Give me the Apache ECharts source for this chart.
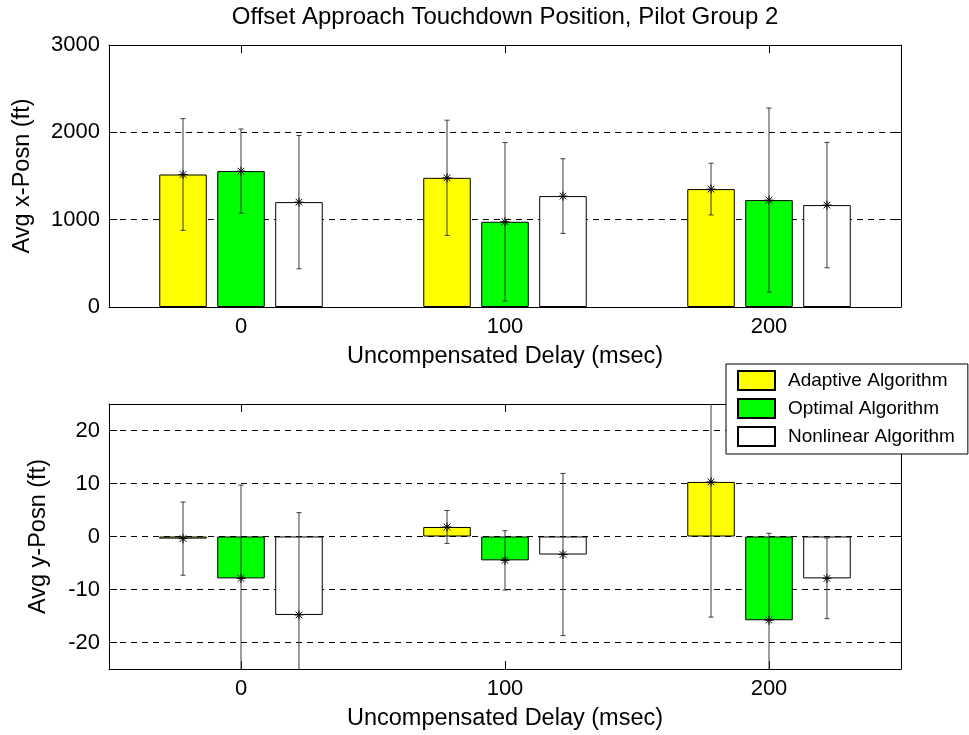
<!DOCTYPE html>
<html>
<head>
<meta charset="utf-8">
<title>Offset Approach Touchdown Position, Pilot Group 2</title>
<script src="https://cdn.jsdelivr.net/npm/echarts@6/dist/echarts.min.js"></script>
<style>
html, body { margin: 0; padding: 0; background: #fff; }
#main { width: 969px; height: 735px; }
</style>
</head>
<body>
<div id="main"></div>
<script>
// categories / series
let delays = ['0', '100', '200'];
let algoNames = ['Adaptive Algorithm', 'Optimal Algorithm', 'Nonlinear Algorithm'];

// avg x position (ft) and its std
let adaptiveX = [1517, 1479, 1350];
let optimalX = [1556, 976, 1224];
let nonlinearX = [1201, 1270, 1167];
let adaptiveXErr = [640, 660, 296];
let optimalXErr = [482, 907, 1054];
let nonlinearXErr = [763, 427, 718];

// avg y position (ft) and its std
let adaptiveY = [-0.4, 1.8, 10.3];
let optimalY = [-7.9, -4.5, -15.8];
let nonlinearY = [-14.8, -3.4, -7.9];
let adaptiveYErr = [6.9, 3.1, 25.5];
let optimalYErr = [17.6, 5.6, 16.4];
let nonlinearYErr = [19.3, 15.3, 7.6];

// y tick values of the lower plot
let yPosTicks = [-20, -10, 0, 10, 20];

// styling
let font = 'Liberation Sans, Arial, Helvetica, sans-serif';
let algoColors = ['#ffff00', '#00ff00', '#ffffff'];
let barW = 0.18, barGapW = 0.22;
let barStep = barW * (1 + barGapW);

let chart = echarts.init(document.getElementById('main'));

// error bar + '*' marker, shifted onto bar k of the group
function errorBar(k) {
    return function (params, api) {
        let cat = api.value(0), mean = api.value(1), sd = api.value(2);
        let band = api.size([1, 0])[0];
        let x = api.coord([cat, mean])[0] + (k - 1) * band * barStep;
        let yc = api.coord([cat, mean])[1];
        let yh = api.coord([cat, mean + sd])[1];
        let yl = api.coord([cat, mean - sd])[1];
        let s = 4.5, d = 3.3;
        let ln = function (x1, y1, x2, y2, c) {
            return { type: 'line', shape: { x1: x1, y1: y1, x2: x2, y2: y2 }, style: { stroke: c, lineWidth: 1 } };
        };
        return {
            type: 'group',
            children: [
                ln(x, yh, x, yl, '#3a3a3a'),
                ln(x - 2.5, yh, x + 2.5, yh, '#3a3a3a'),
                ln(x - 2.5, yl, x + 2.5, yl, '#3a3a3a'),
                ln(x - s, yc, x + s, yc, '#000'),
                ln(x, yc - s, x, yc + s, '#000'),
                ln(x - d, yc - d, x + d, yc + d, '#000'),
                ln(x - d, yc + d, x + d, yc - d, '#000')
            ]
        };
    };
}

let tickStyle = { show: true, inside: true, length: 8, lineStyle: { color: '#000', width: 1 } };
let lineStyle = { show: true, onZero: false, lineStyle: { color: '#000', width: 1 } };
let labelStyle = { color: '#000', fontSize: 22, fontFamily: font, formatter: function (v) { return String(v); } };
let nameStyle = { color: '#000', fontSize: 23.5, fontFamily: font };

function catAxis(grid, pos, withName) {
    return {
        type: 'category', gridIndex: grid, position: pos, data: delays,
        axisLine: lineStyle,
        axisTick: Object.assign({ alignWithLabel: true }, tickStyle),
        axisLabel: Object.assign({}, labelStyle, { show: withName, margin: 9 }),
        name: withName ? 'Uncompensated Delay (msec)' : '',
        nameLocation: 'middle', nameGap: 38, nameTextStyle: nameStyle,
        splitLine: { show: false }
    };
}

let means = [[adaptiveX, optimalX, nonlinearX], [adaptiveY, optimalY, nonlinearY]];
let errs = [[adaptiveXErr, optimalXErr, nonlinearXErr], [adaptiveYErr, optimalYErr, nonlinearYErr]];

let series = [];
// gridlines of lower plot
series.push({
    type: 'line', xAxisIndex: 2, yAxisIndex: 2, data: [], silent: true, z: 1,
    markLine: {
        silent: true, symbol: 'none', z: 1, animation: false,
        label: { show: false },
        lineStyle: { color: '#000', width: 1, type: [6, 5] },
        data: yPosTicks.map(function (v) { return { yAxis: v }; })
    }
});
for (let g = 0; g < 2; g++) {
    for (let k = 0; k < 3; k++) {
        series.push({
            name: algoNames[k], type: 'bar',
            xAxisIndex: g * 2, yAxisIndex: g * 2,
            barWidth: (barW * 100) + '%', barGap: (barGapW * 100) + '%',
            itemStyle: { color: algoColors[k], borderColor: '#000', borderWidth: 1 },
            data: means[g][k],
            z: 2, animation: false
        });
    }
    for (let k = 0; k < 3; k++) {
        series.push({
            type: 'custom', xAxisIndex: g * 2, yAxisIndex: g * 2,
            clip: true, z: 3, silent: true,
            renderItem: errorBar(k),
            encode: { x: 0, y: 1 },
            data: delays.map(function (d, i) { return [i, means[g][k][i], errs[g][k][i]]; }),
            animation: false
        });
    }
}

let option = {
    backgroundColor: '#fff',
    animation: false,
    title: {
        text: 'Offset Approach Touchdown Position, Pilot Group 2',
        left: 505, top: 5, padding: 0, textAlign: 'center',
        textStyle: { color: '#000', fontSize: 24, fontWeight: 'normal', fontFamily: font }
    },
    legend: {
        orient: 'vertical', left: 726, top: 364,
        data: algoNames, icon: 'rect', selectedMode: false,
        itemWidth: 37, itemHeight: 19, itemGap: 7,
        padding: [6, 13, 7, 11],
        backgroundColor: '#fff', borderColor: '#000', borderWidth: 1, borderRadius: 0,
        textStyle: { color: '#000', fontSize: 19, lineHeight: 19, fontFamily: font, padding: [0, 0, 0, 8] }
    },
    grid: [
        { left: 109, right: 68, top: 45, height: 262 },
        { left: 109, right: 68, top: 404, height: 265 }
    ],
    xAxis: [
        catAxis(0, 'bottom', true),
        catAxis(0, 'top', false),
        catAxis(1, 'bottom', true),
        catAxis(1, 'top', false)
    ],
    yAxis: [
        {
            type: 'value', gridIndex: 0, position: 'left', min: 0, max: 3000, interval: 1000,
            name: 'Avg x-Posn (ft)', nameLocation: 'middle', nameGap: 74, nameTextStyle: nameStyle,
            axisLine: lineStyle, axisTick: tickStyle,
            axisLabel: Object.assign({ margin: 9 }, labelStyle),
            splitLine: { show: true, lineStyle: { color: '#000', width: 1, type: [6, 5] } }
        },
        {
            type: 'value', gridIndex: 0, position: 'right', min: 0, max: 3000, interval: 1000,
            axisLine: lineStyle, axisTick: tickStyle,
            axisLabel: { show: false }, splitLine: { show: false }
        },
        {
            type: 'value', gridIndex: 1, position: 'left', min: -25, max: 25,
            name: 'Avg y-Posn (ft)', nameLocation: 'middle', nameGap: 58, nameTextStyle: nameStyle,
            axisLine: lineStyle,
            axisTick: Object.assign({ customValues: yPosTicks }, tickStyle),
            axisLabel: Object.assign({ margin: 9, customValues: yPosTicks }, labelStyle),
            splitLine: { show: false }
        },
        {
            type: 'value', gridIndex: 1, position: 'right', min: -25, max: 25,
            axisLine: lineStyle,
            axisTick: Object.assign({ customValues: yPosTicks }, tickStyle),
            axisLabel: { show: false }, splitLine: { show: false }
        }
    ],
    series: series
};
chart.setOption(option);
</script>
</body>
</html>
